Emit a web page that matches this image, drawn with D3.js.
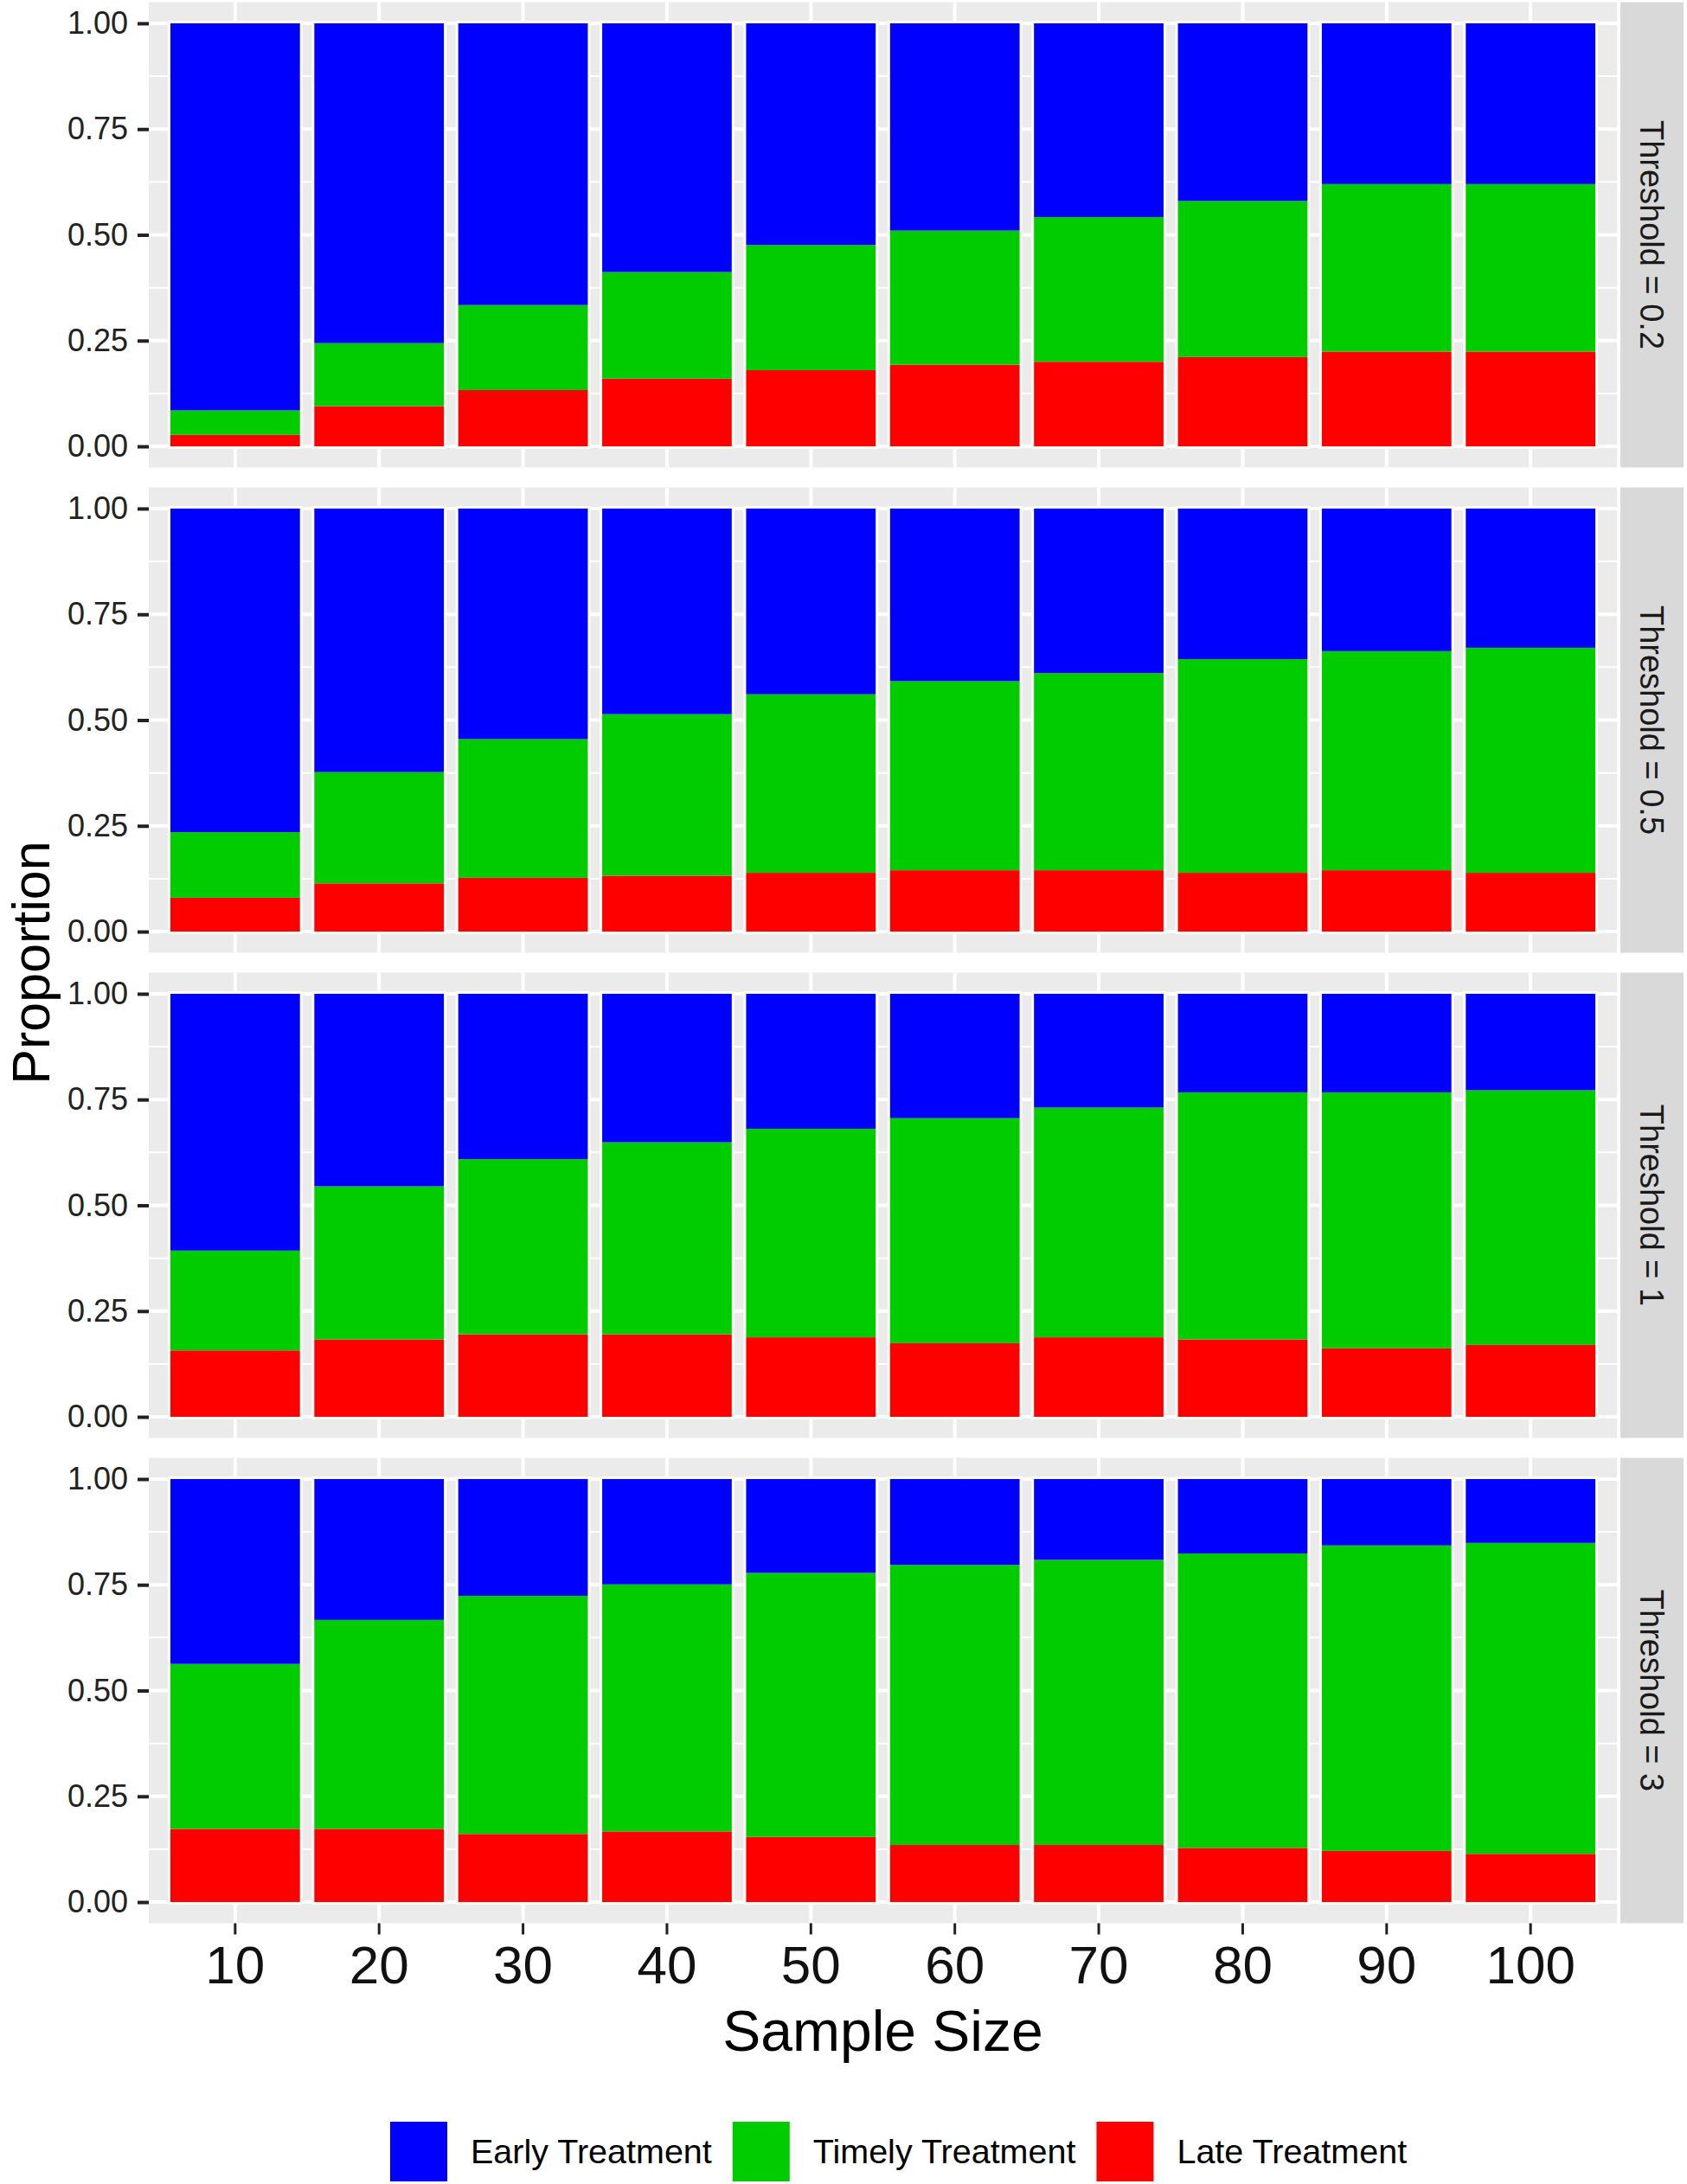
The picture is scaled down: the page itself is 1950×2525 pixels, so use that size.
<!DOCTYPE html>
<html lang="en">
<head>
<meta charset="UTF-8">
<title>Treatment timing by sample size</title>
<script src="https://cdn.jsdelivr.net/npm/d3@7"></script>
<style>
  body { margin: 0; background: #fff; }
  text { font-family: "Liberation Sans", Arial, sans-serif; }
</style>
</head>
<body>
<div id="chart"></div>
<script>
// facet rows, x categories and the three stacked series (proportions)
var thresholds = ["Threshold = 0.2", "Threshold = 0.5", "Threshold = 1", "Threshold = 3"];
var sampleSizes = ["10", "20", "30", "40", "50", "60", "70", "80", "90", "100"];
var seriesNames = ["Early Treatment", "Timely Treatment", "Late Treatment"];
var seriesColors = ["#0000ff", "#00cc00", "#ff0000"];
var yTicks = [0, 0.25, 0.5, 0.75, 1];

var earlyValues = [
  [0.915, 0.756, 0.666, 0.588, 0.524, 0.490, 0.458, 0.420, 0.380, 0.380],
  [0.765, 0.623, 0.545, 0.486, 0.439, 0.408, 0.389, 0.356, 0.337, 0.329],
  [0.607, 0.455, 0.391, 0.351, 0.319, 0.294, 0.269, 0.233, 0.233, 0.228],
  [0.437, 0.333, 0.276, 0.249, 0.222, 0.203, 0.191, 0.176, 0.157, 0.151]
];
var timelyValues = [
  [0.058, 0.149, 0.201, 0.252, 0.296, 0.317, 0.342, 0.369, 0.396, 0.396],
  [0.155, 0.263, 0.328, 0.382, 0.422, 0.447, 0.466, 0.505, 0.518, 0.532],
  [0.236, 0.362, 0.414, 0.454, 0.493, 0.532, 0.543, 0.584, 0.605, 0.602],
  [0.390, 0.494, 0.563, 0.584, 0.624, 0.662, 0.674, 0.696, 0.722, 0.735]
];
var lateValues = [
  [0.027, 0.095, 0.133, 0.160, 0.180, 0.193, 0.200, 0.211, 0.224, 0.224],
  [0.080, 0.114, 0.127, 0.132, 0.139, 0.145, 0.145, 0.139, 0.145, 0.139],
  [0.157, 0.183, 0.195, 0.195, 0.188, 0.174, 0.188, 0.183, 0.162, 0.170],
  [0.173, 0.173, 0.161, 0.167, 0.154, 0.135, 0.135, 0.128, 0.121, 0.114]
];

var W = 1950, H = 2525;
var panelLeft = 172, panelRight = 1869;
var panelTop = 2.5, panelH = 538, panelGap = 23;
var stripW = 73, stripGap = 4;

var svg = d3.select("#chart").append("svg")
  .attr("width", W).attr("height", H);

var x = d3.scaleBand()
  .domain(sampleSizes)
  .range([panelLeft, panelRight])
  .paddingInner(0.1)
  .paddingOuter(0.15);

// stack order bottom -> top: late, timely, early
var stackKeys = ["late", "timely", "early"];
var keyColor = { early: seriesColors[0], timely: seriesColors[1], late: seriesColors[2] };
var stack = d3.stack().keys(stackKeys);

thresholds.forEach(function (label, p) {
  var top = panelTop + p * (panelH + panelGap);
  var bottom = top + panelH;
  var y = d3.scaleLinear().domain([-0.05, 1.05]).range([bottom, top]);

  var rows = sampleSizes.map(function (s, i) {
    return { size: s, early: earlyValues[p][i], timely: timelyValues[p][i], late: lateValues[p][i] };
  });

  var g = svg.append("g");

  // panel background + grid
  g.append("rect")
    .attr("x", panelLeft).attr("y", top)
    .attr("width", panelRight - panelLeft).attr("height", panelH)
    .attr("fill", "#ebebeb");

  var minor = d3.range(0.125, 1, 0.25);
  g.selectAll(".minor").data(minor).enter().append("line")
    .attr("x1", panelLeft).attr("x2", panelRight)
    .attr("y1", function (d) { return y(d); }).attr("y2", function (d) { return y(d); })
    .attr("stroke", "#fff").attr("stroke-width", 2);
  g.selectAll(".major").data(yTicks).enter().append("line")
    .attr("x1", panelLeft).attr("x2", panelRight)
    .attr("y1", function (d) { return y(d); }).attr("y2", function (d) { return y(d); })
    .attr("stroke", "#fff").attr("stroke-width", 4);
  g.selectAll(".vgrid").data(sampleSizes).enter().append("line")
    .attr("x1", function (d) { return x(d) + x.bandwidth() / 2; })
    .attr("x2", function (d) { return x(d) + x.bandwidth() / 2; })
    .attr("y1", top).attr("y2", bottom)
    .attr("stroke", "#fff").attr("stroke-width", 4);

  // light halo behind each bar, as in the picture
  g.selectAll(".halo").data(rows).enter().append("rect")
    .attr("x", function (d) { return x(d.size) - 3; })
    .attr("y", y(1) - 3)
    .attr("width", x.bandwidth() + 6)
    .attr("height", y(0) - y(1) + 6)
    .attr("fill", "#fdfdf6");

  // stacked bars
  var layers = stack(rows);
  g.selectAll(".layer").data(layers).enter().append("g")
    .attr("fill", function (d) { return keyColor[d.key]; })
    .selectAll("rect").data(function (d) { return d; }).enter().append("rect")
    .attr("x", function (d) { return x(d.data.size); })
    .attr("y", function (d) { return y(d[1]); })
    .attr("width", x.bandwidth())
    .attr("height", function (d) { return y(d[0]) - y(d[1]); });

  // y axis
  var yAxis = g.append("g")
    .attr("transform", "translate(" + panelLeft + ",0)")
    .call(d3.axisLeft(y).tickValues(yTicks).tickFormat(d3.format(".2f")).tickSize(13).tickPadding(11));
  yAxis.select(".domain").remove();
  yAxis.selectAll(".tick line").attr("stroke", "#222").attr("stroke-width", 4);
  yAxis.selectAll(".tick text")
    .attr("fill", "#222")
    .style("font-size", "36px")
    .style("font-family", "'Liberation Sans', Arial, sans-serif");

  // facet strip
  var stripX = panelRight + stripGap;
  g.append("rect")
    .attr("x", stripX).attr("y", top)
    .attr("width", stripW).attr("height", panelH)
    .attr("fill", "#d9d9d9");
  g.append("text")
    .attr("transform", "translate(" + (stripX + stripW / 2) + "," + (top + panelH / 2) + ") rotate(90)")
    .attr("text-anchor", "middle")
    .attr("dy", "0.35em")
    .attr("fill", "#1a1a1a")
    .style("font-size", "38px")
    .text(label);

  if (p === thresholds.length - 1) {
    var xAxis = g.append("g")
      .attr("transform", "translate(0," + bottom + ")")
      .call(d3.axisBottom(x).tickSize(13).tickPadding(12));
    xAxis.select(".domain").remove();
    xAxis.selectAll(".tick line").attr("stroke", "#222").attr("stroke-width", 3);
    xAxis.selectAll(".tick text")
      .attr("fill", "#111")
      .style("font-size", "62px")
      .style("font-family", "'Liberation Sans', Arial, sans-serif");
  }
});

var plotBottom = panelTop + thresholds.length * panelH + (thresholds.length - 1) * panelGap;

// axis titles
svg.append("text")
  .attr("x", (panelLeft + panelRight) / 2)
  .attr("y", 2371)
  .attr("text-anchor", "middle")
  .attr("fill", "#000")
  .style("font-size", "66px")
  .text("Sample Size");

svg.append("text")
  .attr("transform", "translate(57," + ((panelTop + plotBottom) / 2) + ") rotate(-90)")
  .attr("text-anchor", "middle")
  .attr("fill", "#000")
  .style("font-size", "61px")
  .text("Proportion");

// legend
var legend = svg.append("g");
var lx = 451, keyW = 66, keyH = 69, keyY = 2453;
seriesNames.forEach(function (name, i) {
  legend.append("rect")
    .attr("x", lx).attr("y", keyY)
    .attr("width", keyW).attr("height", keyH)
    .attr("fill", seriesColors[i]);
  var t = legend.append("text")
    .attr("x", lx + keyW + 27)
    .attr("y", keyY + keyH / 2)
    .attr("dy", "0.35em")
    .attr("fill", "#000")
    .style("font-size", "39.5px")
    .text(name);
  lx = lx + keyW + 27 + t.node().getComputedTextLength() + 24;
});
</script>
</body>
</html>
